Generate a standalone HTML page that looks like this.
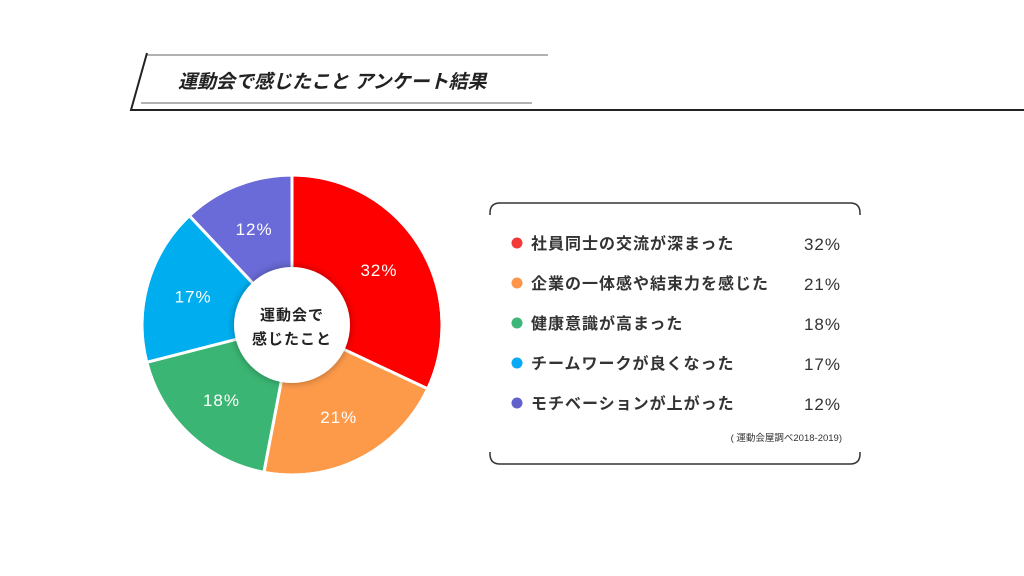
<!DOCTYPE html>
<html><head><meta charset="utf-8"><style>
body{margin:0;width:1024px;height:576px;background:#fff;overflow:hidden;font-family:"Liberation Sans","Noto Sans CJK JP",sans-serif;}
svg{position:absolute;left:0;top:0}
</style></head><body>
<svg width="1024" height="576">
<defs>
<filter id="sh" x="-20%" y="-20%" width="140%" height="140%"><feDropShadow dx="0" dy="0" stdDeviation="4" flood-color="#000" flood-opacity="0.35"/></filter>
</defs>
<g>
<line x1="147" y1="55" x2="548" y2="55" stroke="#666" stroke-width="1"/>
<line x1="141" y1="103" x2="532" y2="103" stroke="#666" stroke-width="1"/>
<polyline points="147,53 131,110 1024,110" fill="none" stroke="#222" stroke-width="2"/>
<text x="178" y="88" font-size="19" font-weight="bold" font-style="italic" fill="#222">運動会で感じたこと アンケート結果</text>
</g>
<g id="pie"></g>
<g id="legend">
<path d="M490,215 V213 Q490,203 500,203 H850 Q860,203 860,213 V215" fill="none" stroke="#333" stroke-width="1.5"/>
<path d="M490,452 V454 Q490,464 500,464 H850 Q860,464 860,454 V452" fill="none" stroke="#333" stroke-width="1.5"/>
<text x="842" y="441" font-size="9.5" text-anchor="end" fill="#333">( 運動会屋調べ2018-2019)</text>
</g>
</svg>
<script>
const categories=["社員同士の交流が深まった","企業の一体感や結束力を感じた","健康意識が高まった","チームワークが良くなった","モチベーションが上がった"];
const values=[32,21,18,17,12];
const sliceColors=["#ff0000","#fd9a4a","#3bb573","#00aef0","#6a6ad8"];
const dotColors=["#f33a3a","#fd954a","#3bb77a","#08aaf5","#6262cc"];
const NS="http://www.w3.org/2000/svg";
const cx=292,cy=325,R=150,r0=58;
const pie=document.getElementById('pie');
const total=values.reduce((a,b)=>a+b,0);
function pt(a,rad){return [cx+rad*Math.sin(a),cy-rad*Math.cos(a)];}
let acc=0;
values.forEach((v,i)=>{
 const a0=acc/total*2*Math.PI, a1=(acc+v)/total*2*Math.PI; acc+=v;
 const p0=pt(a0,R),p1=pt(a1,R);
 const p=document.createElementNS(NS,'path');
 p.setAttribute('d',`M${cx},${cy} L${p0[0]},${p0[1]} A${R},${R} 0 ${a1-a0>Math.PI?1:0} 1 ${p1[0]},${p1[1]} Z`);
 p.setAttribute('fill',sliceColors[i]);p.setAttribute('stroke','#fff');p.setAttribute('stroke-width','3');
 
 
 pie.appendChild(p);
 const m=(a0+a1)/2,lp=pt(m,103);
 const t=document.createElementNS(NS,'text');
 t.setAttribute('x',lp[0]);t.setAttribute('y',lp[1]+6);t.setAttribute('text-anchor','middle');
 t.setAttribute('font-size','17');t.setAttribute('fill','#fff');t.setAttribute('letter-spacing','1');
 t.textContent=v+'%';
 
 
 pie.appendChild(t);
});
const ring=document.createElementNS(NS,'circle');
ring.setAttribute('cx',cx);ring.setAttribute('cy',cy);ring.setAttribute('r',R);ring.setAttribute('fill','none');ring.setAttribute('stroke','#fff');ring.setAttribute('stroke-width','3');


pie.appendChild(ring);
const hole=document.createElementNS(NS,'circle');
hole.setAttribute('cx',cx);hole.setAttribute('cy',cy);hole.setAttribute('r',r0);hole.setAttribute('fill','#fff');hole.setAttribute('filter','url(#sh)');


pie.appendChild(hole);
["運動会で","感じたこと"].forEach((s,k)=>{
 const t=document.createElementNS(NS,'text');
 t.setAttribute('x',cx);t.setAttribute('y',cy-5+k*24);t.setAttribute('text-anchor','middle');
 t.setAttribute('font-size','15');t.setAttribute('font-weight','bold');t.setAttribute('fill','#222');t.setAttribute('letter-spacing','1');
 t.textContent=s;
 
 
 pie.appendChild(t);
});
const lg=document.getElementById('legend');
categories.forEach((c,i)=>{
 const y=243+i*40;
 const d=document.createElementNS(NS,'circle');
 d.setAttribute('cx',517);d.setAttribute('cy',y);d.setAttribute('r',5.5);d.setAttribute('fill',dotColors[i]);
 
 
 lg.appendChild(d);
 const t=document.createElementNS(NS,'text');
 t.setAttribute('x',531);t.setAttribute('y',y+6);t.setAttribute('font-size','16');t.setAttribute('font-weight','bold');t.setAttribute('fill','#333');t.setAttribute('letter-spacing','1');
 t.textContent=c;
 
 
 lg.appendChild(t);
 const v=document.createElementNS(NS,'text');
 v.setAttribute('x',841);v.setAttribute('y',y+7);v.setAttribute('font-size','17');v.setAttribute('text-anchor','end');v.setAttribute('fill','#333');v.setAttribute('letter-spacing','1');
 v.textContent=values[i]+'%';
 
 
 lg.appendChild(v);
});
</script>
</body></html>
